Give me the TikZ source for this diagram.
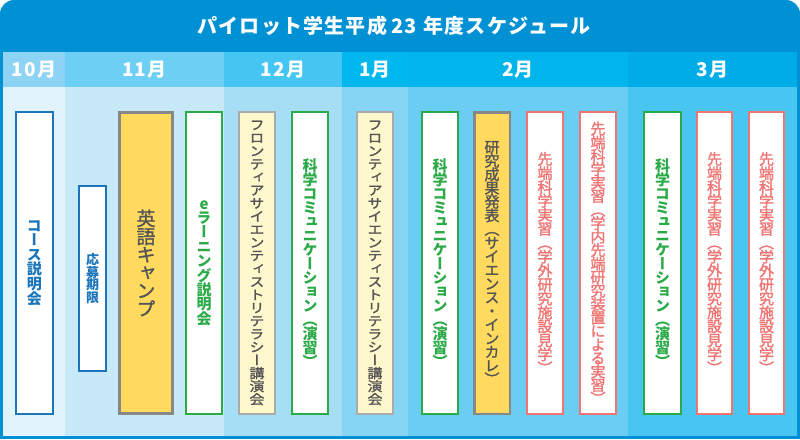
\documentclass[tikz,border=0pt]{standalone}
\usepackage{fontspec}
\usepackage{graphicx}
\newfontfamily\jp{Noto Sans CJK JP}
\newfontfamily\vjp{Noto Sans CJK JP}[RawFeature=+vert]
\newfontfamily\vjpm{Noto Sans CJK JP}[RawFeature=+vert, FakeBold=1.5]
\definecolor{cframe}{HTML}{0090D4}
\definecolor{hA}{HTML}{8DD3F3}\definecolor{bA}{HTML}{E1F3FC}
\definecolor{hB}{HTML}{6ECFF4}\definecolor{bB}{HTML}{C7E9F8}
\definecolor{hC}{HTML}{45C5F1}\definecolor{bC}{HTML}{A6DEF6}
\definecolor{hD}{HTML}{00B8EE}\definecolor{bD}{HTML}{87D5F4}
\definecolor{hE}{HTML}{00B4EC}\definecolor{bE}{HTML}{6ACDF3}
\definecolor{hF}{HTML}{00ACE7}\definecolor{bF}{HTML}{48C6F1}
\definecolor{cblue}{HTML}{1B75BB}
\definecolor{cgreen}{HTML}{2BAA48}
\definecolor{cred}{HTML}{F07472}
\definecolor{cgraytxt}{HTML}{555555}
\definecolor{cgrayline}{HTML}{888888}
\definecolor{clightgray}{HTML}{AAAAAA}
\definecolor{cyellow}{HTML}{FFDA5E}
\definecolor{cpaley}{HTML}{FFF8CC}
\ExplSyntaxOn
\NewDocumentCommand\vt{O{1}m}{
  \vbox{
    \baselineskip=#1em
    \lineskiplimit=-\maxdimen
    \lineskip=0pt
    \tl_map_inline:nn {#2} { \hbox_to_wd:nn {1em} { \hss ##1 \hss } }
  }
}
\ExplSyntaxOff
\tikzset{
  box/.style={draw, fill=white, line width=2pt, inner sep=0pt,
    minimum width=36pt, minimum height=302pt},
  bluebox/.style={box, draw=cblue, text=cblue,
    font=\vjp\bfseries\fontsize{15}{15}\selectfont},
  greenbox/.style={box, draw=cgreen, text=cgreen,
    font=\vjp\bfseries\fontsize{15}{15}\selectfont},
  redbox/.style={box, draw=cred, text=cred,
    font=\vjpm\fontsize{15}{15}\selectfont},
  yellowbox/.style={box, draw=cgrayline, fill=cyellow, text=cgraytxt,
    font=\vjpm\fontsize{15}{15}\selectfont},
  paleybox/.style={box, draw=clightgray, fill=cpaley, text=cgraytxt,
    font=\vjpm\fontsize{15}{15}\selectfont},
  month/.style={text=white, inner sep=0pt,
    font=\jp\bfseries\fontsize{19}{19}\selectfont\addfontfeature{LetterSpace=6}},
}
\begin{document}
\begin{tikzpicture}[x=1pt,y=-1pt]
\useasboundingbox (0,0) rectangle (800,439);
% frame
\fill[cframe, rounded corners=14pt] (0,0) rectangle (800,60);
\fill[cframe] (0,30) rectangle (800,439);
% columns
\fill[hA] (3,52) rectangle (65,87);   \fill[bA] (3,87) rectangle (65,436);
\fill[hB] (65,52) rectangle (224,87); \fill[bB] (65,87) rectangle (224,436);
\fill[hC] (224,52) rectangle (342,87);\fill[bC] (224,87) rectangle (342,436);
\fill[hD] (342,52) rectangle (408,87);\fill[bD] (342,87) rectangle (408,436);
\fill[hE] (408,52) rectangle (628,87);\fill[bE] (408,87) rectangle (628,436);
\fill[hF] (628,52) rectangle (797,87);\fill[bF] (628,87) rectangle (797,436);
% title
\node[text=white, inner sep=0pt, font=\jp\bfseries\fontsize{20}{20}\selectfont\addfontfeature{LetterSpace=6}]
  (title) at (394,26) {パイロット学生平成\hspace{0.2em}23\hspace{0.35em}年度スケジュール};
% months
\node[month] (m10) at (34,70) {10月};
\node[month] (m11) at (144.5,70) {11月};
\node[month] (m12) at (283,70) {12月};
\node[month] (m1) at (375,70) {1月};
\node[month] (m2) at (518,70) {2月};
\node[month] (m3) at (712.5,70) {3月};
% boxes
\node[bluebox, minimum width=37pt] (course) at (34.5,263) {\vt[0.97]{コース説明会}};
\node[bluebox, minimum width=27pt, minimum height=185pt,
  font=\vjp\bfseries\fontsize{13}{13}\selectfont] (deadline) at (92.5,278.5) {\vt[0.98]{応募期限}};
\node[yellowbox, line width=3pt, minimum width=53pt, minimum height=301pt,
  font=\vjpm\fontsize{19}{19}\selectfont] (camp) at (146,263) {\vt[0.95]{英語キャンプ}};
\node[greenbox] (elearn) at (204,263) {\vt[0.96]{eラーニング説明会}};
\node[paleybox] (front1) at (257,263) {\scalebox{1}[0.88]{\vt[0.99]{フロンティアサイエンティストリテラシー講演会}}};
\node[greenbox] (comm1) at (310,263) {\vt[0.93]{科学コミュニケーション（演習）}};
\node[paleybox] (front2) at (375,263) {\scalebox{1}[0.88]{\vt[0.99]{フロンティアサイエンティストリテラシー講演会}}};
\node[greenbox] (comm2) at (440,263) {\vt[0.93]{科学コミュニケーション（演習）}};
\node[yellowbox, line width=2.5pt, minimum width=35.5pt, minimum height=301.5pt]
  (present) at (492,263) {\vt[0.91]{研究成果発表（サイエンス・インカレ）}};
\node[redbox] (adv1) at (545,263) {\vt[0.93]{先端科学実習（学外研究施設見学）}};
\node[redbox] (adv2) at (598,263) {\vt[0.9]{先端科学実習（学内先端研究装置による実習）}};
\node[greenbox, minimum width=37pt] (comm3) at (662.5,263) {\vt[0.93]{科学コミュニケーション（演習）}};
\node[redbox, minimum width=35pt] (adv3) at (714.5,263) {\vt[0.93]{先端科学実習（学外研究施設見学）}};
\node[redbox, minimum width=35pt] (adv4) at (766.5,263) {\vt[0.93]{先端科学実習（学外研究施設見学）}};
\end{tikzpicture}
\end{document}
